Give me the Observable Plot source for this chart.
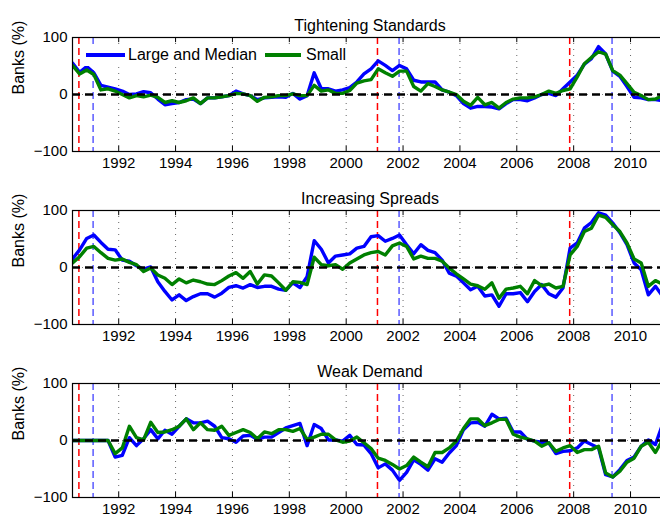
<!DOCTYPE html>
<html>
<head>
<meta charset="utf-8">
<script src="https://cdn.jsdelivr.net/npm/d3@7"></script>
<script src="https://cdn.jsdelivr.net/npm/@observablehq/plot@0.6"></script>
<style>
  body { margin: 0; background: #fff; }
  #wrap { position: relative; width: 660px; height: 516px; overflow: hidden; background: #fff;
          font-family: "Liberation Sans", Arial, Helvetica, sans-serif; color: #000; }
  #wrap svg { display: block; max-width: none !important; }
  .legend { position: absolute; left: 82px; top: 44px; height: 22px; padding: 0 4px; background: #fff;
            display: flex; align-items: center; font-size: 16px; white-space: nowrap; }
  .legend .sw { display: inline-block; width: 39px; height: 4px; margin-right: 3px; }
</style>
</head>
<body>
<div id="wrap">
  <div class="legend">
    <span class="sw" style="background:#0000ff"></span><span>Large and Median</span>
    <span class="sw" style="background:#008000; margin-left:8px; width:36px; margin-right:5px"></span><span>Small</span>
  </div>
</div>
<script>
// Quarterly survey dates, plotted at mid-quarter: 1990 Q2 through 2011 Q1
const firstQuarter = 1990.375;
const quarters = d3.range(84).map(i => firstQuarter + i / 4);

// NBER recession peaks and troughs
const recessionPeaks = [1990.6, 2001.1, 2007.86];
const recessionTroughs = [1991.1, 2001.86, 2009.35];

const xTicks = [1992, 1994, 1996, 1998, 2000, 2002, 2004, 2006, 2008, 2010];
const yTicks = [-100, 0, 100];
const xDomain = [1990.375, 2011.3];

// Net percentage of banks — large and medium-sized vs. small
const tightLarge = [55, 39, 49, 38, 16, 13, 10, 6, 0, 1, 5, 3, -8, -18, -16, -14, -9, -8, -16, -6,
  -6, -4, -2, 6, 1, -2, -9, -6, -5, -4, -5, 2, -8, -2, 38, 10, 10, 6, 8, 12,
  22, 36, 45, 59, 51, 42, 51, 45, 25, 22, 22, 22, 8, 4, -2, -16, -24, -21, -21, -22,
  -25, -16, -9, -9, -11, -6, 0, 2, -2, 10, 22, 34, 53, 63, 84, 71, 41, 32, 14, -5,
  -6, -9, -9, -11];
const tightSmall = [51, 36, 43, 35, 8, 10, 6, 0, -6, -2, -4, -1, -5, -14, -11, -14, -11, -6, -16, -6,
  -6, -4, -2, 2, 1, -2, -12, -5, -4, -2, -2, 1, -2, -2, 16, 6, 8, 2, 2, 7,
  20, 24, 26, 45, 38, 32, 41, 41, 14, 6, 19, 14, 8, 4, 0, -12, -19, -5, -18, -14,
  -24, -14, -8, -6, -6, -4, 0, 6, 2, 7, 10, 31, 54, 65, 75, 71, 42, 34, 19, 4,
  -2, -9, -8, -2];

const spreadLarge = [15, 31, 51, 57, 44, 32, 31, 13, 11, 3, -3, 1, -25, -42, -57, -48, -58, -51, -46, -46,
  -52, -45, -35, -32, -36, -30, -35, -33, -33, -38, -40, -27, -35, -16, 47, 32, 8, 20, 22, 24,
  34, 37, 54, 56, 46, 51, 57, 40, 24, 40, 30, 26, 13, -10, -15, -27, -39, -33, -50, -48,
  -68, -46, -46, -44, -60, -42, -30, -46, -52, -36, 34, 43, 69, 79, 96, 92, 78, 61, 40, 8,
  -4, -48, -33, -50];
const spreadSmall = [8, 19, 34, 37, 26, 16, 13, 15, 9, 5, -7, -1, -13, -19, -30, -20, -27, -22, -25, -29,
  -30, -23, -15, -9, -19, -7, -29, -13, -15, -27, -40, -25, -26, -30, 18, 5, 3, 5, -3, 8,
  15, 22, 26, 28, 22, 38, 43, 37, 15, 20, 16, 16, 11, -1, -11, -20, -29, -32, -38, -27,
  -54, -38, -36, -33, -46, -23, -32, -29, -36, -33, 22, 37, 63, 69, 92, 88, 75, 63, 43, 15,
  8, -33, -23, -29];

const demandLarge = [0, 0, 0, 0, 0, 0, -29, -26, 5, -9, 3, 19, 3, 18, 11, 25, 38, 31, 31, 34,
  25, 5, 3, -3, 8, 9, 2, 6, 6, 14, 22, 26, 30, -9, 28, 21, 1, 1, -1, 9,
  -7, -8, -23, -48, -41, -52, -70, -56, -34, -42, -52, -32, -38, -22, -9, 19, 31, 32, 25, 46,
  38, 39, 15, 15, 2, -1, -3, -4, -23, -19, -18, -13, -1, -7, -13, -60, -64, -51, -35, -29,
  -10, 1, -7, 28];
const demandSmall = [0, 0, 0, 0, 0, 0, -23, -13, 25, 5, 1, 32, 14, 15, 19, 25, 38, 19, 31, 19,
  18, 25, 9, 14, 19, 14, 3, 15, 12, 19, 19, 16, 21, 2, 6, 11, 11, 1, -3, -1,
  6, -4, -14, -31, -35, -42, -50, -44, -29, -38, -46, -21, -21, -13, -1, 21, 38, 38, 26, 31,
  37, 37, 11, 6, 3, -1, -10, -4, -19, -13, -9, -21, -16, -16, -10, -57, -64, -54, -38, -31,
  -10, -3, -21, 1];

const font = '"Liberation Sans", Arial, Helvetica, sans-serif';

function panel(title, large, small, height, marginBottom) {
  const rows = quarters.map((t, i) => ({t, large: large[i], small: small[i]}));
  const svg = Plot.plot({
    width: 667,
    height,
    marginLeft: 72,
    marginRight: 0,
    marginTop: 37,
    marginBottom,
    style: {fontFamily: font, fontSize: "15px", color: "#000", background: "#fff", overflow: "visible"},
    x: {domain: xDomain, ticks: xTicks, tickFormat: d => String(d), tickSize: 0, tickPadding: 6, label: null},
    y: {domain: [-100, 100], ticks: yTicks, tickSize: 0, tickPadding: 5, label: null},
    marks: [
      // dotted grid
      Plot.ruleX(xTicks, {stroke: "#666", strokeWidth: 1, strokeDasharray: "1,5"}),
      Plot.ruleY([0], {stroke: "#888", strokeWidth: 1, strokeDasharray: "1,4"}),
      // recession markers
      Plot.ruleX(recessionPeaks, {stroke: "#ff0000", strokeWidth: 1.5, strokeDasharray: "7,4"}),
      Plot.ruleX(recessionTroughs, {stroke: "#5a5aff", strokeWidth: 1.5, strokeDasharray: "7,4"}),
      // series
      Plot.line(rows, {x: "t", y: "large", stroke: "#0000ff", strokeWidth: 3.4, clip: true}),
      Plot.line(rows, {x: "t", y: "small", stroke: "#008000", strokeWidth: 3.4, clip: true}),
      // zero reference
      Plot.ruleY([0], {stroke: "#000", strokeWidth: 2.4, strokeDasharray: "8,5"}),
      // inward tick marks
      Plot.ruleX(xTicks, {y1: 100, y2: 91, stroke: "#000"}),
      Plot.ruleX(xTicks, {y1: -100, y2: -91, stroke: "#000"}),
      Plot.ruleY(yTicks, {x1: xDomain[0], x2: xDomain[0] + 0.18, stroke: "#000"}),
      Plot.frame({stroke: "#000", strokeWidth: 1.2}),
      // panel title and y label
      Plot.text([title], {text: d => d, frameAnchor: "top", dy: -18, fontSize: 16, fill: "#000"}),
      Plot.text(["Banks (%)"], {text: d => d, frameAnchor: "left", dx: -54, rotate: -90, fontSize: 16, fill: "#000"})
    ]
  });
  svg.style.maxWidth = "none";
  return svg;
}

const wrap = document.getElementById("wrap");
const legend = wrap.querySelector(".legend");
wrap.insertBefore(panel("Tightening Standards", tightLarge, tightSmall, 173, 22), legend);
wrap.insertBefore(panel("Increasing Spreads", spreadLarge, spreadSmall, 173, 22), legend);
wrap.insertBefore(panel("Weak Demand", demandLarge, demandSmall, 170, 19), legend);
</script>
</body>
</html>
